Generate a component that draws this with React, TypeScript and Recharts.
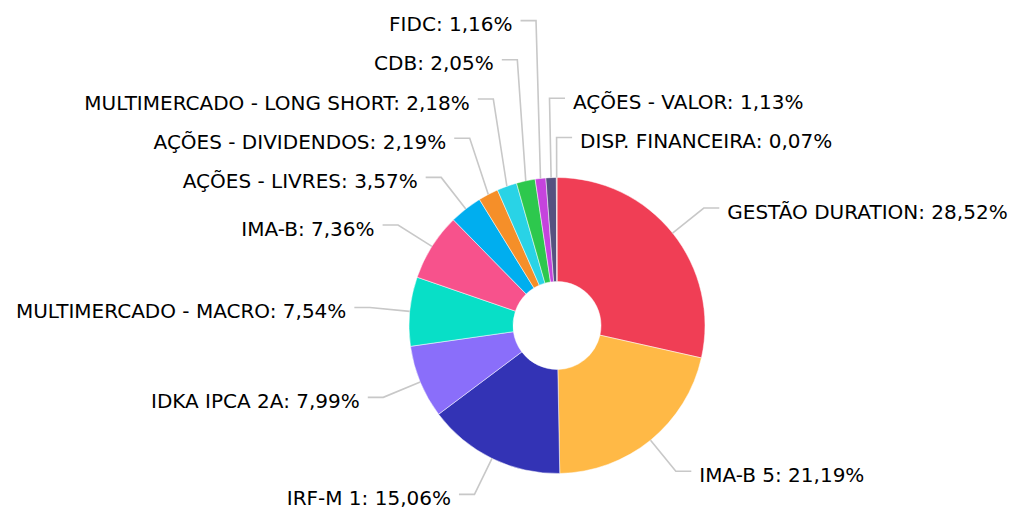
import React from "react";
import { PieChart, Pie, Cell } from "recharts";

const names = [
  "GESTÃO DURATION",
  "IMA-B 5",
  "IRF-M 1",
  "IDKA IPCA 2A",
  "MULTIMERCADO - MACRO",
  "IMA-B",
  "AÇÕES - LIVRES",
  "AÇÕES - DIVIDENDOS",
  "MULTIMERCADO - LONG SHORT",
  "CDB",
  "FIDC",
  "AÇÕES - VALOR",
  "DISP. FINANCEIRA",
];
const values = [28.52, 21.19, 15.06, 7.99, 7.54, 7.36, 3.57, 2.19, 2.18, 2.05, 1.16, 1.13, 0.07];
const colors = [
  "#F03E55",
  "#FFB946",
  "#3333B5",
  "#8A6EFA",
  "#08DFC7",
  "#F7528C",
  "#00AEEF",
  "#F58F29",
  "#29D3E6",
  "#2DC84D",
  "#C544DD",
  "#565280",
  "#9E9E9E",
];

const data = names.map((name, i) => ({ name, value: values[i] }));

const W = 1000;
const H = 504;
const CX = 549;
const CY = 317.5;
const R_IN = 44;
const R_OUT = 148;
const LEN1 = 40;
const LEN2 = 15.5;
const GAP = 8;
const SPACING = 39.2;
const TOP = 4;
const RAD = Math.PI / 180;
const FONT = "Tahoma, 'DejaVu Sans', sans-serif";

const fmt = (v: number) => v.toFixed(2).replace(".", ",") + "%";

// label placement: leader lines go out radially, labels stack on each side
function layoutLabels() {
  const total = values.reduce((a, b) => a + b, 0);
  let acc = 0;
  const items = values.map((v, i) => {
    const cw = ((acc + v / 2) / total) * 360;
    acc += v;
    const mid = 90 - cw;
    const c = Math.cos(mid * RAD);
    const s = -Math.sin(mid * RAD);
    return {
      i,
      cw: cw > 180 ? cw - 360 : cw,
      x1: CX + R_OUT * c,
      y1: CY + R_OUT * s,
      x2: CX + (R_OUT + LEN1) * c,
      y2: CY + (R_OUT + LEN1) * s,
      y: 0,
      right: c >= 0,
    };
  });

  const left = items.filter((d) => !d.right);
  let prev = Infinity;
  let overflow = false;
  left.forEach((d) => {
    if (overflow) {
      d.right = true;
      return;
    }
    const y = Math.min(d.y2, prev - SPACING);
    if (y < TOP) {
      overflow = true;
      d.right = true;
      return;
    }
    d.y = y;
    prev = y;
  });

  const right = items.filter((d) => d.right).sort((a, b) => a.cw - b.cw);
  prev = Infinity;
  for (let k = right.length - 1; k >= 0; k--) {
    const d = right[k];
    d.y = Math.min(d.y2, prev - SPACING);
    prev = d.y;
  }
  return items;
}

const labels = layoutLabels();

const renderLabel = (props: any) => {
  const d = labels[props.index];
  if (!d) return null;
  const dir = d.right ? 1 : -1;
  const x3 = d.x2 + dir * LEN2;
  return (
    <g>
      <polyline
        points={`${d.x1},${d.y1} ${d.x2},${d.y} ${x3},${d.y}`}
        fill="none"
        stroke="#c8c8c8"
        strokeWidth={1.6}
      />
      <text
        x={x3 + dir * GAP}
        y={d.y + 10.5}
        textAnchor={d.right ? "start" : "end"}
        fill="#000"
        fontSize={20}
        fontFamily={FONT}
      >
        {`${names[d.i]}: ${fmt(values[d.i])}`}
      </text>
    </g>
  );
};

export default function App() {
  return (
    <PieChart
      width={W}
      height={H}
      margin={{ top: 0, right: 0, bottom: 0, left: 0 }}
      style={{ overflow: "visible" }}
    >
      <Pie
        data={data}
        dataKey="value"
        nameKey="name"
        cx={CX}
        cy={CY}
        innerRadius={R_IN}
        outerRadius={R_OUT}
        startAngle={90}
        endAngle={-270}
        stroke="#ffffff"
        strokeWidth={0.5}
        label={renderLabel}
        labelLine={false}
        isAnimationActive={false}
      >
        {data.map((d, i) => (
          <Cell key={d.name} fill={colors[i]} />
        ))}
      </Pie>
    </PieChart>
  );
}
